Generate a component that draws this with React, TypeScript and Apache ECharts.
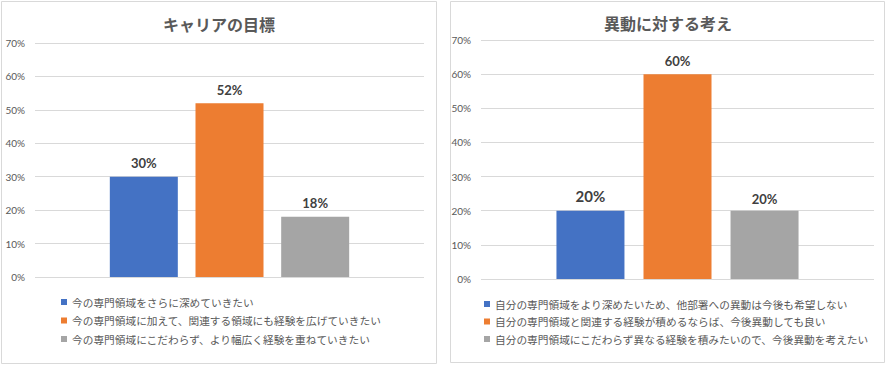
import React, { useEffect, useRef } from "react";
import * as echarts from "echarts";

const leftTitle = "キャリアの目標";
const leftNames = [
  "今の専門領域をさらに深めていきたい",
  "今の専門領域に加えて、関連する領域にも経験を広げていきたい",
  "今の専門領域にこだわらず、より幅広く経験を重ねていきたい",
];
const leftValues = [0.3, 0.52, 0.18];

const rightTitle = "異動に対する考え";
const rightNames = [
  "自分の専門領域をより深めたいため、他部署への異動は今後も希望しない",
  "自分の専門領域と関連する経験が積めるならば、今後異動しても良い",
  "自分の専門領域にこだわらず異なる経験を積みたいので、今後異動を考えたい",
];
const rightValues = [0.2, 0.6, 0.2];

const colors = ["#4472C4", "#ED7D31", "#A5A5A5"];
const yTicks = { min: 0, max: 0.7, interval: 0.1 };

const JP = '"Noto Sans CJK JP", sans-serif';
const NUM = 'Lato, "Noto Sans", sans-serif';

export default function App() {
  const ref = useRef<HTMLDivElement>(null);
  useEffect(() => {
    if (!ref.current) return;
    const chart = echarts.init(ref.current, null, { renderer: "svg" });

    const labelSizes = [
      [13, 13, 13],
      [15, 13, 13],
    ];
    const labelDist = [
      [7, 7, 7],
      [7, 7, 5],
    ];

    const mkSeries = (names: string[], values: number[], idx: number, gap: string) =>
      names.map((n, i) => ({
        type: "bar",
        name: n,
        xAxisIndex: idx,
        yAxisIndex: idx,
        data: [values[i]],
        barWidth: 68,
        barGap: gap,
        itemStyle: { color: colors[i] },
        label: {
          show: true,
          position: "top",
          distance: labelDist[idx][i],
          formatter: (p: any) => Math.round(p.value * 100) + "%",
          fontFamily: NUM,
          fontSize: labelSizes[idx][i],
          fontWeight: "bold",
          color: "#404040",
        },
      }));

    const yAxisBase = (idx: number) => ({
      type: "value",
      gridIndex: idx,
      ...yTicks,
      axisLabel: {
        formatter: (v: number) => Math.round(v * 100) + "%",
        fontFamily: NUM,
        fontSize: 10,
        color: "#595959",
        margin: 10,
      },
      axisLine: { show: false },
      axisTick: { show: false },
      splitLine: { lineStyle: { color: "#D9D9D9", width: 1 } },
    });

    const xAxisBase = (idx: number) => ({
      type: "category",
      gridIndex: idx,
      data: [""],
      axisLine: { show: false },
      axisTick: { show: false },
      axisLabel: { show: false },
    });

    const legendBase = (names: string[], left: number, top: number, gap: number) => ({
      data: names,
      orient: "vertical",
      left,
      top,
      itemWidth: 6,
      itemHeight: 6,
      itemGap: gap,
      icon: "rect",
      padding: 0,
      textStyle: {
        fontFamily: JP,
        fontSize: 10.7,
        color: "#595959",
        lineHeight: 12,
      },
    });

    chart.setOption({
      animation: false,
      backgroundColor: "#ffffff",
      grid: [
        { left: 35, right: 886 - 424, top: 43, bottom: 365 - 277 },
        { left: 481, right: 886 - 874, top: 40, bottom: 365 - 279 },
      ],
      xAxis: [xAxisBase(0), xAxisBase(1)],
      yAxis: [yAxisBase(0), yAxisBase(1)],
      legend: [
        legendBase(leftNames, 61, 296, 6.5),
        legendBase(rightNames, 484, 298, 5.5),
      ],
      series: [
        ...mkSeries(leftNames, leftValues, 0, "26%"),
        ...mkSeries(rightNames, rightValues, 1, "28%"),
      ],
      graphic: [
        {
          type: "rect",
          z: -10,
          shape: { x: 1.5, y: 1.5, width: 435, height: 362 },
          style: { fill: "#ffffff", stroke: "#D9D9D9", lineWidth: 1 },
          silent: true,
        },
        {
          type: "rect",
          z: -10,
          shape: { x: 450.5, y: 1.5, width: 434, height: 361 },
          style: { fill: "#ffffff", stroke: "#D9D9D9", lineWidth: 1 },
          silent: true,
        },
        {
          type: "text",
          x: 219,
          y: 24,
          style: {
            text: leftTitle,
            fontFamily: JP,
            fontSize: 16,
            fontWeight: "bold",
            fill: "#595959",
            align: "center",
            verticalAlign: "middle",
          },
        },
        {
          type: "text",
          x: 668,
          y: 23,
          style: {
            text: rightTitle,
            fontFamily: JP,
            fontSize: 16,
            fontWeight: "bold",
            fill: "#595959",
            align: "center",
            verticalAlign: "middle",
          },
        },
      ],
    });
    return () => chart.dispose();
  }, []);

  return (
    <div
      ref={ref}
      style={{ position: "absolute", left: 0, top: 0, width: 886, height: 365 }}
    />
  );
}
